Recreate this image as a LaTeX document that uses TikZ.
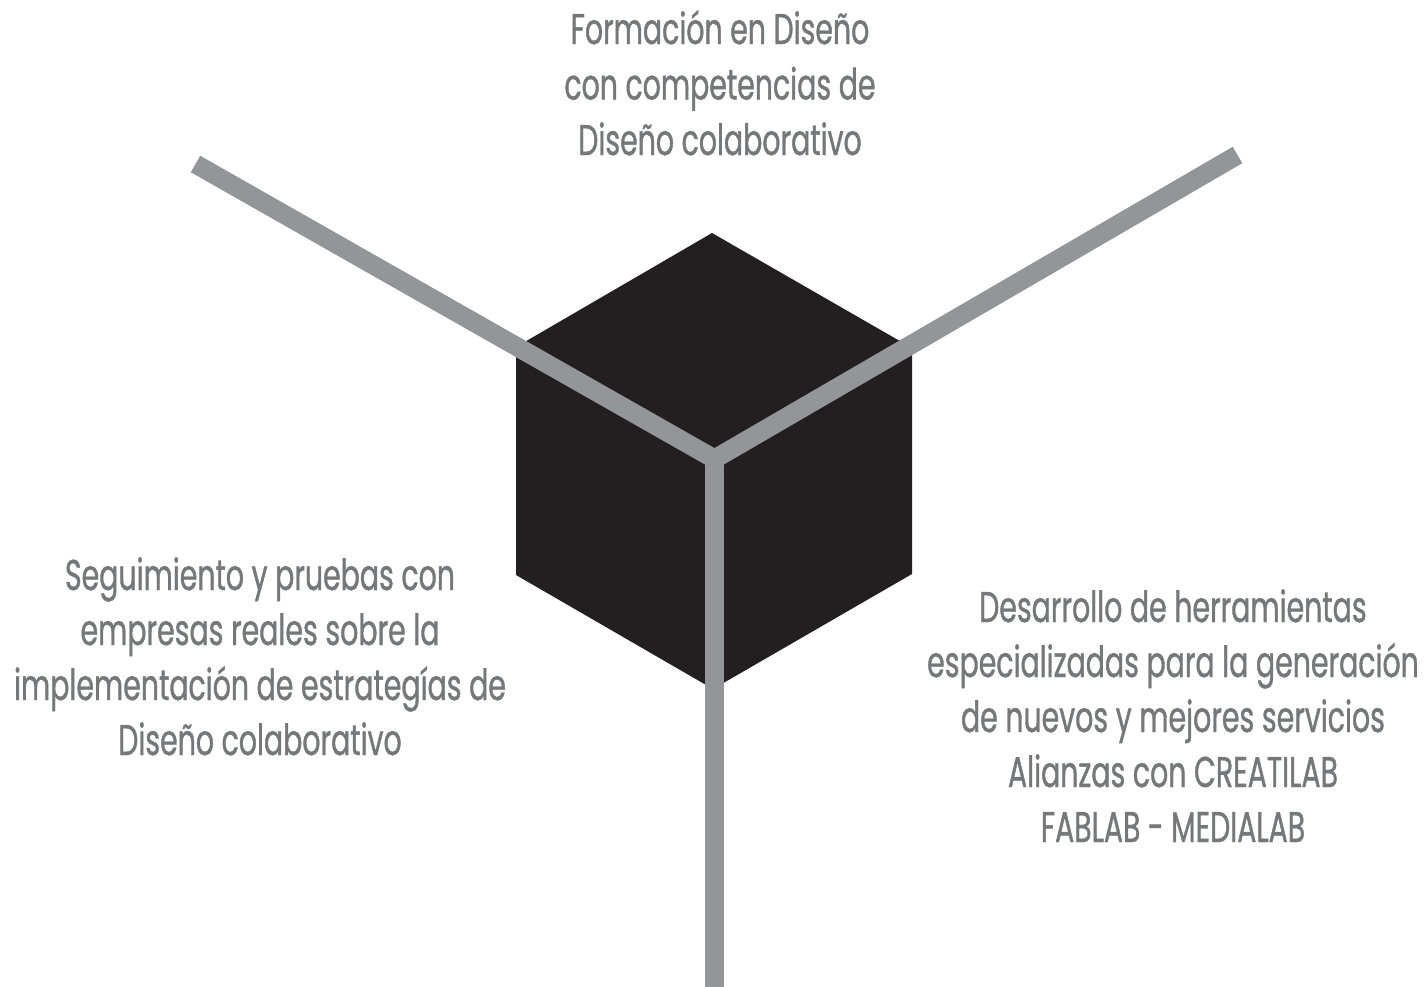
\documentclass[tikz,border=0pt]{standalone}
\usepackage{fontspec}
\newfontfamily\lblfont[FakeStretch=0.66,FakeBold=0.9]{Poppins}
\definecolor{cubeblack}{HTML}{231F20}
\definecolor{armgray}{HTML}{939598}
\definecolor{textgray}{HTML}{76777A}
\begin{document}
\begin{tikzpicture}[x=1pt,y=-1pt,
  arm/.style={line width=19pt, draw=armgray, line join=miter, line cap=butt},
  lbltext/.style={font=\lblfont\fontsize{43}{55}\selectfont, text=textgray, inner sep=0pt, anchor=base}]
\useasboundingbox (0,0) rectangle (1425,986);
% cube
\coordinate (hT) at (712,233);
\coordinate (hUR) at (912,348);
\coordinate (hLR) at (912,574);
\coordinate (hB) at (713,689);
\coordinate (hLL) at (516,575);
\coordinate (hUL) at (516,347);
\fill[cubeblack] (hT) -- (hUR) -- (hLR) -- (hB) -- (hLL) -- (hUL) -- cycle;
% arms
\coordinate (c) at (714.5,459);
\coordinate (eUL) at (195.5,164);
\coordinate (eUR) at (1237.5,155);
\coordinate (eB) at (714.5,990);
\draw[arm] (eUL) -- (c) -- (eUR);
\draw[arm] (c) -- (eB);
% top text
\node[lbltext] (t1) at (720,44) {Formación en Diseño};
\node[lbltext] (t2) at (720,99.5) {con competencias de};
\node[lbltext] (t3) at (720,155) {Diseño colaborativo};
% left text
\node[lbltext] (l1) at (260,590) {Seguimiento y pruebas con};
\node[lbltext] (l2) at (260,645) {empresas reales sobre la};
\node[lbltext] (l3) at (260,700) {implementación de estrategías de};
\node[lbltext] (l4) at (260,755) {Diseño colaborativo};
% right text
\node[lbltext] (r1) at (1173,622) {Desarrollo de herramientas};
\node[lbltext] (r2) at (1173,677) {especializadas para la generación};
\node[lbltext] (r3) at (1173,732) {de nuevos y mejores servicios};
\node[lbltext] (r4) at (1173,787) {Alianzas con CREATILAB};
\node[lbltext] (r5) at (1173,842) {FABLAB - MEDIALAB};
\end{tikzpicture}
\end{document}
